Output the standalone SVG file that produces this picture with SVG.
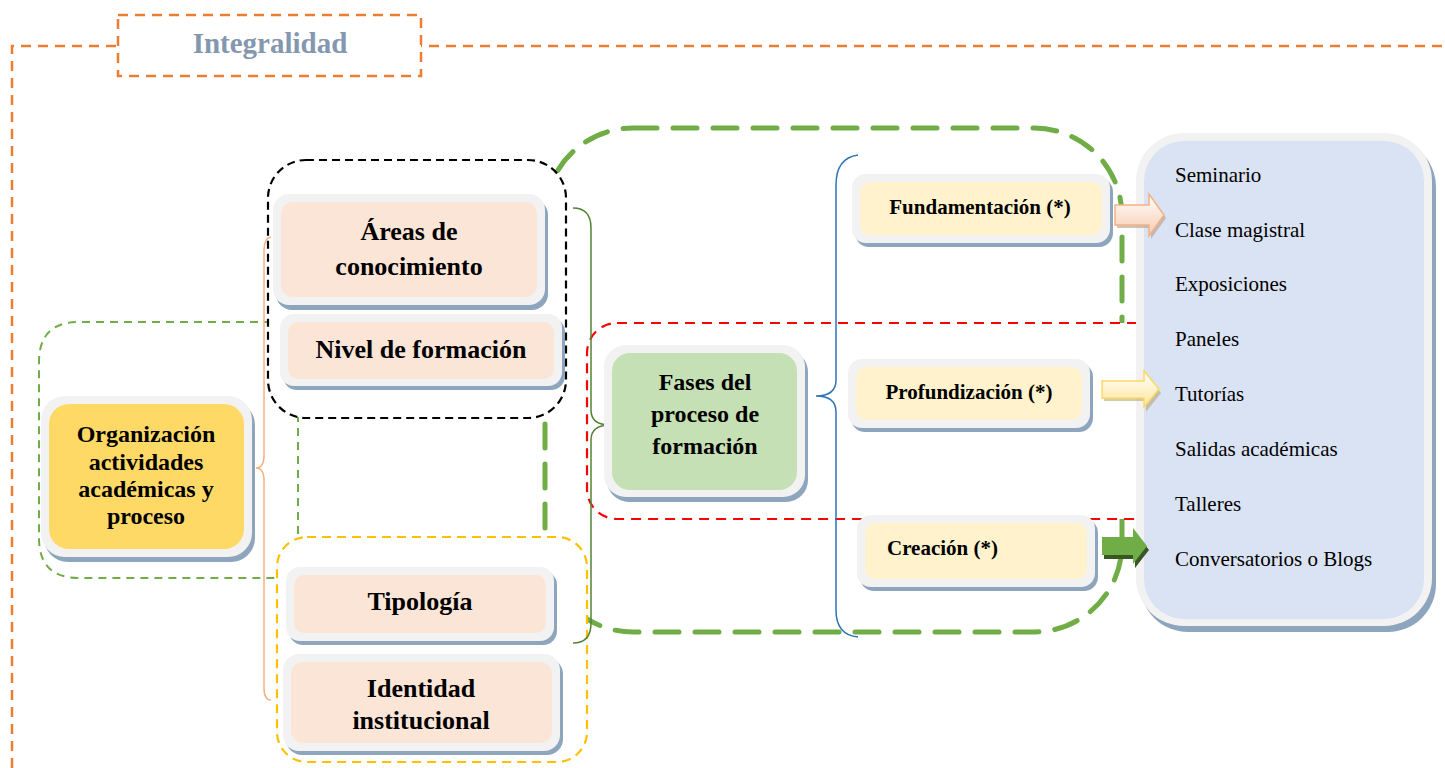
<svg xmlns="http://www.w3.org/2000/svg" width="1445" height="768" viewBox="0 0 1445 768">
<style>
text{font-family:"Liberation Serif","Times New Roman",serif;fill:#000}
.b{font-weight:bold}
.c{text-anchor:middle}
.f26{font-size:26px}
.f24{font-size:24px}
.f21{font-size:21px}
.f21n{font-size:21px}
.sh{fill:#8EA5BE}
.ring{fill:#F2F2F2}
.peach{fill:#FBE5D6}
.cream{fill:#FFF2CC}
.brace{fill:none;stroke-width:1.5}
</style>
<defs>
<linearGradient id="gOr" x1="0" y1="0" x2="0" y2="1">
<stop offset="0" stop-color="#FFFFFF"/><stop offset="1" stop-color="#F8CBAD"/>
</linearGradient>
<linearGradient id="gYe" x1="0" y1="0" x2="0" y2="1">
<stop offset="0" stop-color="#FFFFFF"/><stop offset="1" stop-color="#FFE699"/>
</linearGradient>
</defs>
<rect width="1445" height="768" fill="#FFFFFF"/>

<g id="frame">
<path d="M12,768 V46 H1445" fill="none" stroke="#ED7D31" stroke-width="2.5" stroke-dasharray="10 7"/>
<rect x="118" y="15" width="303" height="61" fill="#FFFFFF" stroke="#ED7D31" stroke-width="2.5" stroke-dasharray="10 7"/>
<text x="270" y="53" class="b c" font-size="29" style="fill:#8497B0">Integralidad</text>
</g>

<g id="groupings">
<path d="M300,322 H79 Q39,322 39,362 V538 Q39,578 79,578 H300" fill="none" stroke="#70AD47" stroke-width="2" stroke-dasharray="8 6"/>
<path d="M298,400 V560" fill="none" stroke="#70AD47" stroke-width="2" stroke-dasharray="8 6"/>
<rect x="545" y="128" width="577" height="504" rx="88" fill="none" stroke="#70AD47" stroke-width="5" stroke-dasharray="24 16" stroke-linecap="round"/>
<rect x="268" y="160" width="298" height="258" rx="38" fill="#FFFFFF" stroke="#000000" stroke-width="2.2" stroke-dasharray="8 5"/>
<rect x="277" y="537" width="310" height="225" rx="30" fill="#FFFFFF" stroke="#FFC000" stroke-width="2.2" stroke-dasharray="9 6"/>
<rect x="587" y="323" width="620" height="196" rx="30" fill="#FFFFFF" stroke="#FF0000" stroke-width="2.2" stroke-dasharray="10 7"/>
</g>

<g id="connectors">
<path class="brace" stroke="#F4B183" d="M271,237 Q264,238 264,250 V455 Q264,468 256,468 Q264,468 264,481 V688 Q264,700 271,700"/>
<path class="brace" stroke="#548235" d="M573,208 Q591,208 591,228 V410 Q591,425 610,425 Q591,425 591,440 V623 Q591,643 573,643"/>
<path class="brace" stroke="#2E75B6" d="M858,155 Q836,158 836,185 V380 Q836,396 816,396 Q836,396 836,412 V610 Q836,635 858,637"/>
</g>

<g id="organizacion">
<rect class="sh" x="44" y="401" width="211" height="161" rx="24"/>
<rect class="ring" x="41" y="396" width="211" height="161" rx="24"/>
<rect x="49" y="404" width="195" height="145" rx="20" fill="#FFD966"/>
<text class="b c f24" x="146" y="442">Organización</text>
<text class="b c f24" x="146" y="470">actividades</text>
<text class="b c f24" x="146" y="497">académicas y</text>
<text class="b c f24" x="146" y="524">proceso</text>
</g>

<g id="areas">
<rect class="sh" x="276" y="199" width="272" height="111" rx="16"/>
<rect class="ring" x="273" y="194" width="272" height="111" rx="16"/>
<rect class="peach" x="281" y="202" width="256" height="95" rx="12"/>
<text class="b c f26" x="409" y="240">Áreas de</text>
<text class="b c f26" x="409" y="275">conocimiento</text>
</g>

<g id="nivel">
<rect class="sh" x="283" y="318" width="282" height="72" rx="14"/>
<rect class="ring" x="280" y="314" width="282" height="72" rx="14"/>
<rect class="peach" x="288" y="322" width="266" height="57" rx="10"/>
<text class="b c f26" x="421" y="358">Nivel de formación</text>
</g>

<g id="tipologia">
<rect class="sh" x="289" y="571" width="268" height="74" rx="14"/>
<rect class="ring" x="286" y="567" width="268" height="74" rx="14"/>
<rect class="peach" x="294" y="575" width="252" height="58" rx="10"/>
<text class="b c f26" x="420" y="610">Tipología</text>
</g>

<g id="identidad">
<rect class="sh" x="286" y="658" width="277" height="97" rx="16"/>
<rect class="ring" x="283" y="654" width="277" height="97" rx="16"/>
<rect class="peach" x="291" y="662" width="261" height="81" rx="12"/>
<text class="b c f26" x="421" y="697">Identidad</text>
<text class="b c f26" x="421" y="729">institucional</text>
</g>

<g id="fases">
<rect class="sh" x="607" y="350" width="201" height="152" rx="22"/>
<rect class="ring" x="604" y="345" width="201" height="152" rx="22"/>
<rect x="612" y="353" width="185" height="137" rx="18" fill="#C5E0B4"/>
<text class="b c f24" x="705" y="390">Fases del</text>
<text class="b c f24" x="705" y="422">proceso de</text>
<text class="b c f24" x="705" y="454">formación</text>
</g>

<g id="fundamentacion">
<rect class="sh" x="855" y="178" width="258" height="69" rx="14"/>
<rect class="ring" x="852" y="174" width="258" height="69" rx="14"/>
<rect class="cream" x="860" y="182" width="242" height="53" rx="10"/>
<text class="b c f21" x="980" y="214">Fundamentación (*)</text>
</g>

<g id="profundizacion">
<rect class="sh" x="851" y="363" width="242" height="69" rx="14"/>
<rect class="ring" x="848" y="359" width="242" height="69" rx="14"/>
<rect class="cream" x="856" y="367" width="226" height="53" rx="10"/>
<text class="b c f21" x="969" y="399">Profundización (*)</text>
</g>

<g id="creacion">
<rect class="sh" x="860" y="519" width="238" height="72" rx="14"/>
<rect class="ring" x="857" y="515" width="238" height="72" rx="14"/>
<rect class="cream" x="865" y="523" width="222" height="56" rx="10"/>
<text class="b f21" x="887" y="555">Creación (*)</text>
</g>

<g id="actividades">
<rect class="sh" x="1140" y="139" width="296" height="493" rx="48"/>
<rect class="ring" x="1136" y="133" width="296" height="493" rx="48"/>
<rect x="1144" y="141" width="280" height="478" rx="40" fill="#DAE3F3"/>
<text class="f21n" x="1175" y="182">Seminario</text>
<text class="f21n" x="1175" y="237">Clase magistral</text>
<text class="f21n" x="1175" y="291">Exposiciones</text>
<text class="f21n" x="1175" y="346">Paneles</text>
<text class="f21n" x="1175" y="401">Tutorías</text>
<text class="f21n" x="1175" y="456">Salidas académicas</text>
<text class="f21n" x="1175" y="511">Talleres</text>
<text class="f21n" x="1175" y="566">Conversatorios o Blogs</text>
</g>

<g id="arrows">
<polygon points="1117,208 1151,208 1151,197 1166,218 1151,239 1151,228 1117,228" fill="#B39B8C" opacity="0.6"/>
<polygon points="1115,205 1149,205 1149,194 1164,215 1149,236 1149,225 1115,225" fill="url(#gOr)" stroke="#F4B183" stroke-width="1.5"/>
<polygon points="1104,384 1146,384 1146,374 1161,393 1146,412 1146,401 1104,401" fill="#B7A77A" opacity="0.6"/>
<polygon points="1102,381 1144,381 1144,371 1159,389 1144,407 1144,398 1102,398" fill="url(#gYe)" stroke="#FFD966" stroke-width="1.5"/>
<polygon points="1104,541 1135,541 1135,532 1149,550 1135,568 1135,559 1104,559" fill="#385723"/>
<polygon points="1102,537 1133,537 1133,528 1147,546 1133,564 1133,555 1102,555" fill="#70AD47"/>
</g>
</svg>
